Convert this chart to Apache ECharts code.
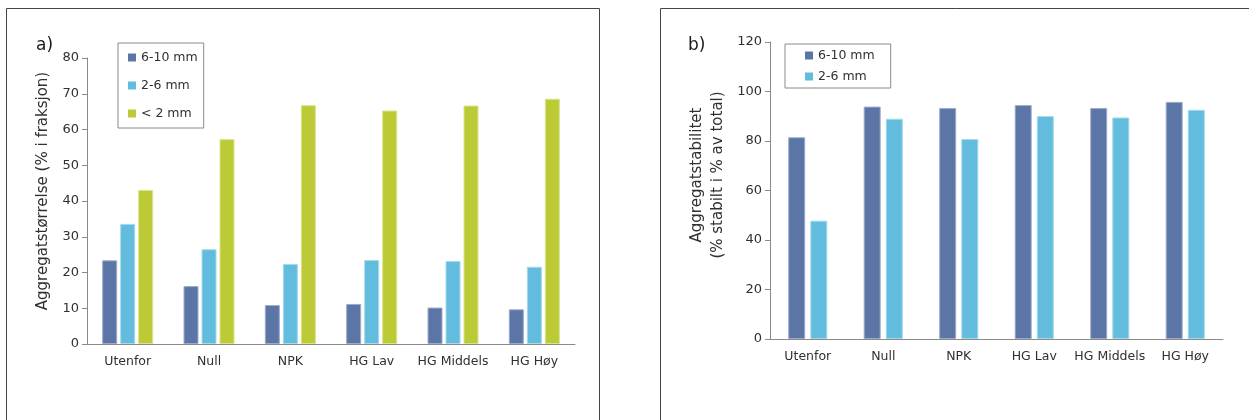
<!DOCTYPE html>
<html>
<head>
<meta charset="utf-8">
<script src="https://cdn.jsdelivr.net/npm/echarts@6/dist/echarts.min.js"></script>
<style>
  html, body { margin: 0; padding: 0; background: #fff; }
  #chart { width: 1249px; height: 420px; }
</style>
</head>
<body>
<div id="chart"></div>
<script>
// kategorier og verdier lest av figuren
const categories = ['Utenfor', 'Null', 'NPK', 'HG Lav', 'HG Middels', 'HG Høy']

// a) aggregatstørrelse (% i fraksjon)
const sizeLarge = [23.4, 16.2, 10.9, 11.2, 10.2, 9.7]
const sizeMedium = [33.6, 26.5, 22.4, 23.5, 23.2, 21.6]
const sizeSmall = [43.1, 57.3, 66.8, 65.3, 66.7, 68.6]

// b) aggregatstabilitet (% stabilt i % av total)
const stabLarge = [81.5, 93.9, 93.3, 94.5, 93.3, 95.8]
const stabMedium = [47.8, 89.0, 80.8, 90.1, 89.5, 92.6]

const seriesNames = ['6-10 mm', '2-6 mm', '< 2 mm']
const colors = ['#5B76A6', '#62BCDD', '#BCCB35']
const edges = ['#9DAACA', '#A6D9EC', '#D9E38E']

const font = 'DejaVu Sans'
const textColor = '#303030'
const axisColor = '#8a8a8a'

const myChart = echarts.init(document.getElementById('chart'))

// felles akseoppsett
function catAxis (gridIndex) {
  return {
    type: 'category',
    gridIndex: gridIndex,
    data: categories,
    axisLine: { lineStyle: { color: axisColor, width: 1 } },
    axisTick: { length: 4, lineStyle: { color: axisColor } },
    axisLabel: { interval: 0, color: textColor, fontFamily: font, fontSize: 12.5, margin: 11 }
  }
}
function valAxis (gridIndex, max, interval, margin) {
  return {
    type: 'value',
    gridIndex: gridIndex,
    min: 0,
    max: max,
    interval: interval,
    splitLine: { show: false },
    axisLine: { show: true, lineStyle: { color: axisColor, width: 1 } },
    axisTick: { show: true, length: 5, lineStyle: { color: axisColor } },
    axisLabel: { color: textColor, fontFamily: font, fontSize: 13, margin: 8 }
  }
}
function bar (name, data, i, axisIndex, width, gap) {
  return {
    name: name,
    type: 'bar',
    xAxisIndex: axisIndex,
    yAxisIndex: axisIndex,
    data: data,
    barWidth: width,
    barGap: gap,
    itemStyle: { color: colors[i], borderColor: edges[i], borderWidth: 1 },
    emphasis: { disabled: true }
  }
}
function legendBox (names, left, top, padding, gap) {
  return {
    data: names,
    orient: 'vertical',
    left: left,
    top: top,
    padding: padding,
    itemGap: gap,
    itemWidth: 8,
    itemHeight: 8,
    icon: 'rect',
    itemStyle: { borderWidth: 0 },
    borderColor: '#8a8a8a',
    borderWidth: 1,
    selectedMode: false,
    textStyle: { color: textColor, fontFamily: font, fontSize: 12.5, lineHeight: 15 }
  }
}

myChart.setOption({
  animation: false,
  grid: [
    { left: 87, top: 58, width: 488, height: 286 },
    { left: 770, top: 42, width: 453, height: 297 }
  ],
  xAxis: [catAxis(0), catAxis(1)],
  yAxis: [valAxis(0, 80, 10, 8), valAxis(1, 120, 20, 7)],
  legend: [
    legendBox(seriesNames, 118, 43, [7, 6, 7, 10], 13),
    legendBox(seriesNames.slice(0, 2), 785, 44, [4, 16, 4, 20], 6)
  ],
  graphic: [
    // rammer rundt panelene
    { type: 'polyline', shape: { points: [[6.5, 430], [6.5, 8.5], [599.5, 8.5], [599.5, 430]] }, style: { stroke: '#444', lineWidth: 1, fill: null } },
    { type: 'polyline', shape: { points: [[660.5, 430], [660.5, 8.5], [1260, 8.5]] }, style: { stroke: '#444', lineWidth: 1, fill: null } },
    { type: 'text', x: 36, y: 46, style: { text: 'a)', fill: '#1a1a1a', font: '17px "DejaVu Sans"', verticalAlign: 'middle' } },
    { type: 'text', x: 688, y: 46, style: { text: 'b)', fill: '#1a1a1a', font: '17px "DejaVu Sans"', verticalAlign: 'middle' } },
    {
      type: 'text', x: 43, y: 191, rotation: Math.PI / 2,
      style: { text: 'Aggregatstørrelse (% i fraksjon)', fill: textColor, font: '15px "DejaVu Sans"', align: 'center', verticalAlign: 'middle' }
    },
    {
      type: 'text', x: 708, y: 175, rotation: Math.PI / 2,
      style: { text: 'Aggregatstabilitet\n(% stabilt i % av total)', fill: textColor, font: '15px "DejaVu Sans"', align: 'center', verticalAlign: 'middle', lineHeight: 21 }
    }
  ],
  series: [
    bar(seriesNames[0], sizeLarge, 0, 0, 15, '20%'),
    bar(seriesNames[1], sizeMedium, 1, 0, 15, '20%'),
    bar(seriesNames[2], sizeSmall, 2, 0, 15, '20%'),
    bar(seriesNames[0], stabLarge, 0, 1, 17, '30%'),
    bar(seriesNames[1], stabMedium, 1, 1, 17, '30%')
  ]
})
</script>
</body>
</html>
